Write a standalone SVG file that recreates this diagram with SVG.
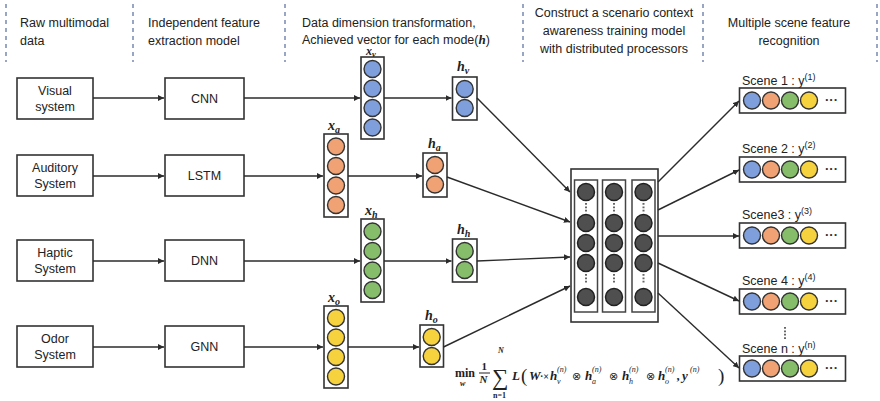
<svg xmlns="http://www.w3.org/2000/svg" width="880" height="401" viewBox="0 0 880 401">
  <defs>
    <marker id="arr" viewBox="0 0 8 8" refX="8" refY="4" markerWidth="6" markerHeight="6" markerUnits="userSpaceOnUse" orient="auto">
      <path d="M0,0 L8,4 L0,8 z" fill="#2b2b2b"/>
    </marker>
    <style>
      .hdr { font-family: "Liberation Sans", Arial, sans-serif; font-size: 12.5px; fill: #222; }
      .sep { stroke: #7f8fb5; stroke-width: 1.6; stroke-dasharray: 4 4; }
      .box { fill: #fff; stroke: #333; stroke-width: 1.6; }
      .lbl { font-family: "Liberation Sans", Arial, sans-serif; font-size: 12.5px; fill: #222; text-anchor: middle; }
      .vec { fill: #fff; stroke: #333; stroke-width: 1.6; }
      .c { stroke: #333; stroke-width: 1.4; }
      .blue { fill: #7f9fdc; }
      .orange { fill: #f0a274; }
      .green { fill: #86bd6b; }
      .yellow { fill: #f7d23f; }
      .dark { fill: #4f4f4f; stroke: #222; stroke-width: 1.5; }
      .col { fill: #fff; stroke: #444; stroke-width: 1.5; }
      .vdots { stroke: #666; stroke-width: 2; stroke-dasharray: 1.8 1.6; }
      .conn { stroke: #2b2b2b; stroke-width: 1.4; fill: none; marker-end: url(#arr); }
      .math { font-family: "Liberation Serif", "DejaVu Serif", serif; font-style: italic; font-weight: bold; fill: #222; }
      .mr { font-family: "Liberation Serif", "DejaVu Serif", serif; fill: #222; }
      .m { font-family: "Liberation Serif", "DejaVu Serif", serif; font-style: italic; font-weight: bold; fill: #222; font-size: 13px; }
      .sup { font-family: "Liberation Serif", "DejaVu Serif", serif; font-style: italic; fill: #222; font-size: 8px; }
      .op { font-family: "DejaVu Sans", sans-serif; fill: #222; font-size: 11px; }
      .scene { font-family: "Liberation Sans", Arial, sans-serif; font-size: 12.5px; fill: #222; }
      .ell { font-family: "Liberation Sans", Arial, sans-serif; font-size: 13px; font-weight: bold; fill: #333; }
    </style>
  </defs>
  <rect width="880" height="401" fill="#fff"/>

  <!-- column headings -->
  <g id="headings">
    <line class="sep" x1="6" y1="4" x2="6" y2="62"/>
    <line class="sep" x1="133" y1="4" x2="133" y2="62"/>
    <line class="sep" x1="285" y1="4" x2="285" y2="62"/>
    <line class="sep" x1="523" y1="4" x2="523" y2="62"/>
    <line class="sep" x1="703" y1="4" x2="703" y2="62"/>
    <line class="sep" x1="877" y1="4" x2="877" y2="62"/>
    <text class="hdr" x="20" y="27">Raw multimodal</text>
    <text class="hdr" x="20" y="45">data</text>
    <text class="hdr" x="148" y="27">Independent feature</text>
    <text class="hdr" x="148" y="45">extraction model</text>
    <text class="hdr" x="302" y="27">Data dimension transformation,</text>
    <text class="hdr" x="302" y="44">Achieved vector for each mode(<tspan class="math" font-size="13">h</tspan>)</text>
    <text class="hdr" x="614" y="17" text-anchor="middle">Construct a scenario context</text>
    <text class="hdr" x="614" y="35" text-anchor="middle">awareness training model</text>
    <text class="hdr" x="614" y="53" text-anchor="middle">with distributed processors</text>
    <text class="hdr" x="789" y="27" text-anchor="middle">Multiple scene feature</text>
    <text class="hdr" x="789" y="45" text-anchor="middle">recognition</text>
  </g>

  <!-- raw input systems -->
  <g id="visual"><rect class="box" x="17" y="78" width="76" height="41"/><text class="lbl" x="55" y="95">Visual</text><text class="lbl" x="55" y="111">system</text></g>
  <g id="auditory"><rect class="box" x="17" y="155" width="76" height="41"/><text class="lbl" x="55" y="172">Auditory</text><text class="lbl" x="55" y="188">System</text></g>
  <g id="haptic"><rect class="box" x="17" y="240" width="76" height="41"/><text class="lbl" x="55" y="257">Haptic</text><text class="lbl" x="55" y="273">System</text></g>
  <g id="odor"><rect class="box" x="17" y="326" width="76" height="41"/><text class="lbl" x="55" y="343">Odor</text><text class="lbl" x="55" y="359">System</text></g>

  <!-- feature extraction models -->
  <g id="cnn"><rect class="box" x="165" y="78" width="79" height="41"/><text class="lbl" x="204.5" y="103">CNN</text></g>
  <g id="lstm"><rect class="box" x="165" y="155" width="79" height="41"/><text class="lbl" x="204.5" y="180">LSTM</text></g>
  <g id="dnn"><rect class="box" x="165" y="240" width="79" height="41"/><text class="lbl" x="204.5" y="265">DNN</text></g>
  <g id="gnn"><rect class="box" x="165" y="326" width="79" height="41"/><text class="lbl" x="204.5" y="351">GNN</text></g>

  <!-- raw feature vectors x -->
  <g id="xv">
    <rect class="vec" x="361" y="57" width="23" height="82"/>
    <circle class="c blue" cx="372.5" cy="69" r="8.5"/><circle class="c blue" cx="372.5" cy="88.5" r="8.5"/><circle class="c blue" cx="372.5" cy="108" r="8.5"/><circle class="c blue" cx="372.5" cy="127.5" r="8.5"/>
    <text class="math" x="366" y="55" font-size="12">x<tspan font-size="8.5" dy="1.5">v</tspan></text>
  </g>
  <g id="xa">
    <rect class="vec" x="324" y="134" width="24" height="83"/>
    <circle class="c orange" cx="336" cy="146.5" r="8.5"/><circle class="c orange" cx="336" cy="166" r="8.5"/><circle class="c orange" cx="336" cy="185.5" r="8.5"/><circle class="c orange" cx="336" cy="205" r="8.5"/>
    <text class="math" x="328" y="130" font-size="14">x<tspan font-size="10" dy="3">a</tspan></text>
  </g>
  <g id="xh">
    <rect class="vec" x="361" y="219" width="23" height="83"/>
    <circle class="c green" cx="372.5" cy="231.5" r="8.5"/><circle class="c green" cx="372.5" cy="251" r="8.5"/><circle class="c green" cx="372.5" cy="270.5" r="8.5"/><circle class="c green" cx="372.5" cy="290" r="8.5"/>
    <text class="math" x="365" y="215" font-size="14">x<tspan font-size="10" dy="3">h</tspan></text>
  </g>
  <g id="xo">
    <rect class="vec" x="324" y="306" width="24" height="82"/>
    <circle class="c yellow" cx="336" cy="318" r="8.5"/><circle class="c yellow" cx="336" cy="337.5" r="8.5"/><circle class="c yellow" cx="336" cy="357" r="8.5"/><circle class="c yellow" cx="336" cy="376.5" r="8.5"/>
    <text class="math" x="328" y="302" font-size="14">x<tspan font-size="10" dy="3">o</tspan></text>
  </g>

  <!-- reduced vectors h -->
  <g id="hv">
    <rect class="vec" x="452.5" y="77" width="24.5" height="43"/>
    <circle class="c blue" cx="464.7" cy="89" r="8.5"/><circle class="c blue" cx="464.7" cy="108" r="8.5"/>
    <text class="math" x="457" y="71" font-size="14">h<tspan font-size="10" dy="3">v</tspan></text>
  </g>
  <g id="ha">
    <rect class="vec" x="423" y="153" width="24" height="44"/>
    <circle class="c orange" cx="435" cy="165" r="8.5"/><circle class="c orange" cx="435" cy="184.5" r="8.5"/>
    <text class="math" x="428" y="148" font-size="14">h<tspan font-size="10" dy="3">a</tspan></text>
  </g>
  <g id="hh">
    <rect class="vec" x="452.5" y="239" width="24.5" height="43"/>
    <circle class="c green" cx="464.7" cy="251" r="8.5"/><circle class="c green" cx="464.7" cy="270" r="8.5"/>
    <text class="math" x="457" y="234" font-size="14">h<tspan font-size="10" dy="3">h</tspan></text>
  </g>
  <g id="ho">
    <rect class="vec" x="420" y="325" width="23.5" height="42"/>
    <circle class="c yellow" cx="431.7" cy="337" r="8.5"/><circle class="c yellow" cx="431.7" cy="356" r="8.5"/>
    <text class="math" x="425" y="320" font-size="14">h<tspan font-size="10" dy="3">o</tspan></text>
  </g>

  <!-- distributed processors -->
  <g id="processors">
    <rect class="box" x="571" y="169" width="87" height="153"/>
    <rect class="col" x="574.5" y="180" width="23" height="132"/>
    <rect class="col" x="602.5" y="180" width="23" height="132"/>
    <rect class="col" x="632" y="180" width="23" height="132"/>
    <g>
      <circle class="dark" cx="586" cy="192" r="8.5"/><circle class="dark" cx="586" cy="223" r="8.5"/><circle class="dark" cx="586" cy="243" r="8.5"/><circle class="dark" cx="586" cy="263" r="8.5"/><circle class="dark" cx="586" cy="297" r="8.5"/>
      <circle class="dark" cx="614" cy="192" r="8.5"/><circle class="dark" cx="614" cy="223" r="8.5"/><circle class="dark" cx="614" cy="243" r="8.5"/><circle class="dark" cx="614" cy="263" r="8.5"/><circle class="dark" cx="614" cy="297" r="8.5"/>
      <circle class="dark" cx="643.5" cy="192" r="8.5"/><circle class="dark" cx="643.5" cy="223" r="8.5"/><circle class="dark" cx="643.5" cy="243" r="8.5"/><circle class="dark" cx="643.5" cy="263" r="8.5"/><circle class="dark" cx="643.5" cy="297" r="8.5"/>
    </g>
    <g>
      <line class="vdots" x1="586" y1="203" x2="586" y2="212"/><line class="vdots" x1="614" y1="203" x2="614" y2="212"/><line class="vdots" x1="643.5" y1="203" x2="643.5" y2="212"/>
      <line class="vdots" x1="586" y1="274" x2="586" y2="283"/><line class="vdots" x1="614" y1="274" x2="614" y2="283"/><line class="vdots" x1="643.5" y1="274" x2="643.5" y2="283"/>
    </g>
  </g>

  <!-- recognised scenes -->
  <g id="scene1">
    <text class="scene" x="742" y="85">Scene 1 : y<tspan font-size="9" dy="-5">(1)</tspan></text>
    <rect class="vec" x="739.5" y="88" width="106" height="25"/>
    <circle class="c blue" cx="752" cy="100.5" r="8.5"/><circle class="c orange" cx="771" cy="100.5" r="8.5"/><circle class="c green" cx="790" cy="100.5" r="8.5"/><circle class="c yellow" cx="809" cy="100.5" r="8.5"/>
    <text class="ell" x="825" y="104">···</text>
  </g>
  <g id="scene2">
    <text class="scene" x="742" y="153">Scene 2 : y<tspan font-size="9" dy="-5">(2)</tspan></text>
    <rect class="vec" x="739.5" y="157" width="106" height="25"/>
    <circle class="c blue" cx="752" cy="169.5" r="8.5"/><circle class="c orange" cx="771" cy="169.5" r="8.5"/><circle class="c green" cx="790" cy="169.5" r="8.5"/><circle class="c yellow" cx="809" cy="169.5" r="8.5"/>
    <text class="ell" x="825" y="173">···</text>
  </g>
  <g id="scene3">
    <text class="scene" x="742" y="219">Scene3 : y<tspan font-size="9" dy="-5">(3)</tspan></text>
    <rect class="vec" x="739.5" y="223" width="106" height="25"/>
    <circle class="c blue" cx="752" cy="235.5" r="8.5"/><circle class="c orange" cx="771" cy="235.5" r="8.5"/><circle class="c green" cx="790" cy="235.5" r="8.5"/><circle class="c yellow" cx="809" cy="235.5" r="8.5"/>
    <text class="ell" x="825" y="239">···</text>
  </g>
  <g id="scene4">
    <text class="scene" x="742" y="285">Scene 4 : y<tspan font-size="9" dy="-5">(4)</tspan></text>
    <rect class="vec" x="739.5" y="289" width="106" height="25"/>
    <circle class="c blue" cx="752" cy="301.5" r="8.5"/><circle class="c orange" cx="771" cy="301.5" r="8.5"/><circle class="c green" cx="790" cy="301.5" r="8.5"/><circle class="c yellow" cx="809" cy="301.5" r="8.5"/>
    <text class="ell" x="825" y="305">···</text>
  </g>
  <line class="vdots" x1="785" y1="327" x2="785" y2="340"/>
  <g id="scenen">
    <text class="scene" x="742" y="353">Scene n : y<tspan font-size="9" dy="-5">(n)</tspan></text>
    <rect class="vec" x="739.5" y="356" width="106" height="25"/>
    <circle class="c blue" cx="752" cy="368.5" r="8.5"/><circle class="c orange" cx="771" cy="368.5" r="8.5"/><circle class="c green" cx="790" cy="368.5" r="8.5"/><circle class="c yellow" cx="809" cy="368.5" r="8.5"/>
    <text class="ell" x="825" y="372">···</text>
  </g>

  <!-- training objective -->
  <g id="objective">
    <text class="mr" x="455" y="377" font-size="12" font-weight="bold">min</text>
    <text class="math" x="460" y="386" font-size="8">w</text>
    <text class="mr" x="481.5" y="370" font-size="11" font-weight="bold">1</text>
    <line x1="479" y1="373" x2="490" y2="373" stroke="#222" stroke-width="1"/>
    <text class="math" x="479.5" y="383" font-size="11">N</text>
    <text class="mr" x="492" y="385" font-size="23">∑</text>
    <text class="math" x="498" y="353" font-size="8">N</text>
    <text class="mr" x="493" y="398" font-size="8" font-weight="bold">n=1</text>
    <text class="m" x="512" y="380">L</text>
    <text class="mr" x="521" y="382" font-size="19">(</text>
    <text class="m" x="529" y="380">W</text>
    <text class="mr" x="540" y="380" font-size="10" font-weight="bold">·×</text>
    <text class="m" x="550" y="380">h</text>
    <text class="sup" x="557" y="384">v</text>
    <text class="sup" x="557" y="372">(n)</text>
    <text class="op" x="572" y="380">⊗</text>
    <text class="m" x="585" y="380">h</text>
    <text class="sup" x="592" y="384">a</text>
    <text class="sup" x="592" y="372">(n)</text>
    <text class="op" x="609" y="380">⊗</text>
    <text class="m" x="622" y="380">h</text>
    <text class="sup" x="629" y="384">h</text>
    <text class="sup" x="629" y="372">(n)</text>
    <text class="op" x="646" y="380">⊗</text>
    <text class="m" x="658" y="380">h</text>
    <text class="sup" x="665" y="384">o</text>
    <text class="sup" x="665" y="372">(n)</text>
    <text class="m" x="677" y="380">,</text>
    <text class="m" x="682" y="380">y</text>
    <text class="sup" x="690" y="372">(n)</text>
    <text class="mr" x="718" y="382" font-size="19">)</text>
  </g>

  <!-- connectors -->
  <g id="connectors">
    <line class="conn" x1="93" y1="98" x2="164" y2="98"/>
    <line class="conn" x1="93" y1="176" x2="164" y2="176"/>
    <line class="conn" x1="93" y1="261" x2="164" y2="261"/>
    <line class="conn" x1="93" y1="347" x2="164" y2="347"/>

    <line class="conn" x1="244" y1="98" x2="360" y2="98"/>
    <line class="conn" x1="244" y1="176" x2="323" y2="176"/>
    <line class="conn" x1="244" y1="261" x2="360" y2="261"/>
    <line class="conn" x1="244" y1="347" x2="323" y2="347"/>

    <line class="conn" x1="384" y1="98" x2="451.5" y2="98"/>
    <line class="conn" x1="348" y1="176" x2="422" y2="176"/>
    <line class="conn" x1="384" y1="261" x2="451.5" y2="261"/>
    <line class="conn" x1="348" y1="347" x2="419" y2="347"/>

    <line class="conn" x1="477" y1="98" x2="570" y2="192"/>
    <line class="conn" x1="447" y1="177" x2="570" y2="222"/>
    <line class="conn" x1="477" y1="261" x2="570" y2="257"/>
    <line class="conn" x1="443.5" y1="347" x2="570" y2="286"/>

    <line class="conn" x1="658" y1="182" x2="739" y2="101"/>
    <line class="conn" x1="658" y1="210" x2="739" y2="170"/>
    <line class="conn" x1="658" y1="236" x2="739" y2="236"/>
    <line class="conn" x1="658" y1="263" x2="739" y2="301"/>
    <line class="conn" x1="658" y1="293" x2="739" y2="368"/>
  </g>
</svg>
